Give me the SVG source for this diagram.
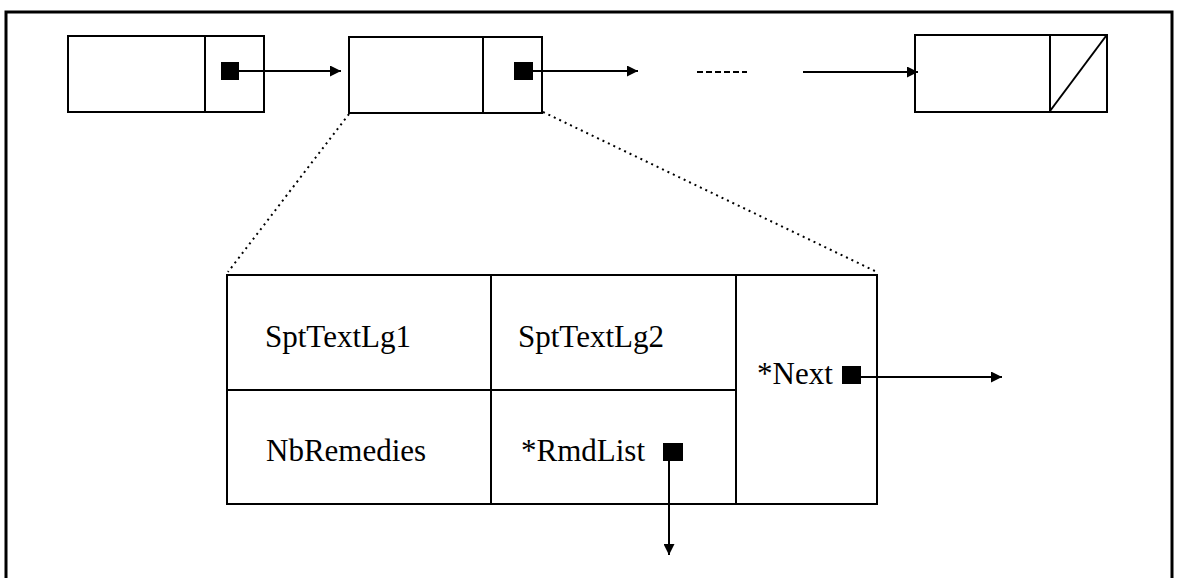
<svg xmlns="http://www.w3.org/2000/svg" width="1181" height="578" viewBox="0 0 1181 578">
<style>
.box{fill:none;stroke:#000;stroke-width:2}
.ln{fill:none;stroke:#000;stroke-width:2}
.dot{fill:none;stroke:#000;stroke-width:2;stroke-dasharray:2 4}
.ptr{fill:#000}
.t{font-family:"Liberation Serif","Times New Roman",serif;font-size:31px;fill:#000}
</style>
<defs>
<marker id="ah" viewBox="0 0 10 10" refX="10" refY="5" markerWidth="11" markerHeight="11" markerUnits="userSpaceOnUse" orient="auto">
<path d="M0,0 L10,5 L0,10 z" fill="#000"/>
</marker>
</defs>
<rect width="1181" height="578" fill="#fff"/>
<rect x="6" y="12" width="1166" height="600" fill="none" stroke="#000" stroke-width="3"/>
<g id="node1">
<rect class="box" x="68" y="36" width="196" height="76"/>
<line class="ln" x1="205" y1="36" x2="205" y2="112"/>
<rect class="ptr" x="221" y="62" width="18" height="18"/>
</g>
<g id="node2">
<rect class="box" x="349" y="37" width="193" height="76"/>
<line class="ln" x1="483" y1="37" x2="483" y2="113"/>
<rect class="ptr" x="514" y="62" width="19" height="18"/>
</g>
<g id="node3">
<rect class="box" x="915" y="35" width="192" height="77"/>
<line class="ln" x1="1050" y1="35" x2="1050" y2="112"/>
<line class="ln" x1="1050" y1="111" x2="1106" y2="36"/>
</g>
<g id="detail">
<rect class="box" x="227" y="275" width="650" height="229"/>
<line class="ln" x1="227" y1="390" x2="736" y2="390"/>
<line class="ln" x1="491" y1="275" x2="491" y2="504"/>
<line class="ln" x1="736" y1="275" x2="736" y2="504"/>
<text class="t" x="265" y="347">SptTextLg1</text>
<text class="t" x="518" y="347">SptTextLg2</text>
<text class="t" x="266" y="461">NbRemedies</text>
<text class="t" x="521" y="461">*RmdList</text>
<text class="t" x="757" y="384">*Next</text>
<rect class="ptr" x="663" y="443" width="20" height="18"/>
<rect class="ptr" x="842" y="366" width="19" height="18"/>
</g>
<g id="connectors">
<line class="ln" x1="239" y1="71" x2="341" y2="71" marker-end="url(#ah)"/>
<line class="ln" x1="533" y1="71" x2="638" y2="71" marker-end="url(#ah)"/>
<line class="ln" x1="697" y1="72" x2="747" y2="72" stroke-dasharray="6 3"/>
<line class="ln" x1="803" y1="72" x2="918" y2="72" marker-end="url(#ah)"/>
<line class="dot" x1="349" y1="114" x2="228" y2="272"/>
<line class="dot" x1="543" y1="112" x2="877" y2="272"/>
<line class="ln" x1="861" y1="377" x2="1002" y2="377" marker-end="url(#ah)"/>
<line class="ln" x1="669" y1="461" x2="669" y2="555" marker-end="url(#ah)"/>
</g>
</svg>
